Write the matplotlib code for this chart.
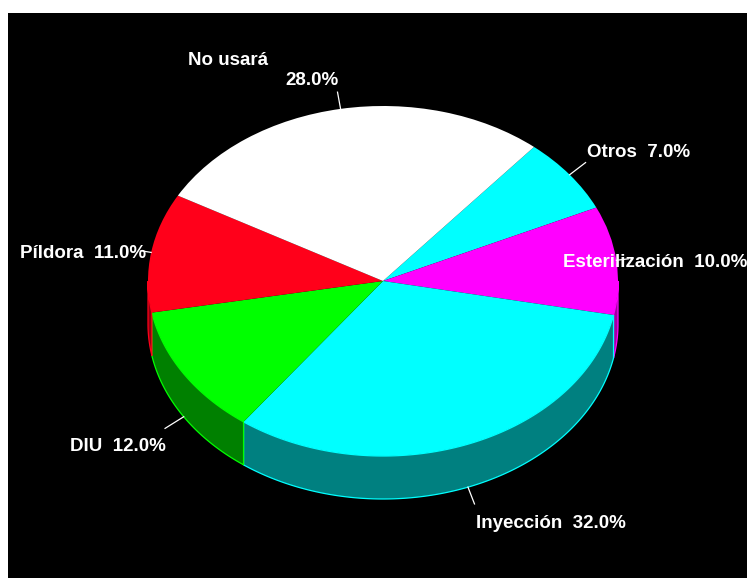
import numpy as np
import matplotlib
matplotlib.use("Agg")
import matplotlib.pyplot as plt
from matplotlib.patches import Wedge, Polygon, Rectangle
from matplotlib.transforms import Affine2D

# ---- data ----
categories = ["Otros", "Esterilización", "Inyección", "DIU", "Píldora", "No usará"]
values = [7.0, 10.0, 32.0, 12.0, 11.0, 28.0]
top_colors = ["#00ffff", "#ff00ff", "#00ffff", "#00ff00", "#ff001a", "#ffffff"]
side_colors = ["#008080", "#a000a0", "#008080", "#008000", "#90000f", "#808080"]
label_texts = ["Otros  7.0%", "Esterilización  10.0%", "Inyección  32.0%",
               "DIU  12.0%", "Píldora  11.0%", "No usará"]

# ---- layout (pixel coordinates) ----
W, H = 747, 578
cx, cy = 383, 281
rx, ry = 235, 175
depth = 43
start_angle = 50.0

plt.rcParams['font.family'] = ['Liberation Sans Narrow', 'Liberation Sans', 'DejaVu Sans']

fig = plt.figure(figsize=(W / 100, H / 100), dpi=100, facecolor="white")
ax = fig.add_axes([0, 0, 1, 1])
ax.set_xlim(0, W)
ax.set_ylim(H, 0)
ax.axis("off")
ax.add_patch(Rectangle((8, 13), W - 8, H - 13, facecolor="black", edgecolor="none", zorder=0))

ell = Affine2D().scale(rx, -ry).translate(cx, cy) + ax.transData

fracs = np.array(values) / np.sum(values)
bounds = start_angle - 360 * np.concatenate([[0], np.cumsum(fracs)])

def pt(theta_deg, d=0.0):
    t = np.deg2rad(theta_deg)
    return cx + rx * np.cos(t), cy - ry * np.sin(t) + d

# sides (front half, where sin < 0)
for i in range(len(values)):
    a_hi, a_lo = bounds[i], bounds[i + 1]
    ts = np.linspace(a_lo, a_hi, 400)
    s = np.sin(np.deg2rad(ts))
    mask = s <= 1e-9
    if mask.sum() < 2:
        continue
    idx = np.where(mask)[0]
    runs = np.split(idx, np.where(np.diff(idx) != 1)[0] + 1)
    for run in runs:
        if len(run) < 2:
            continue
        tt = ts[run]
        top = [pt(t) for t in tt]
        bot = [pt(t, depth) for t in tt[::-1]]
        poly = Polygon(top + bot, closed=True, facecolor=side_colors[i],
                       edgecolor=top_colors[i], linewidth=0.9, zorder=2)
        ax.add_patch(poly)

# top wedges
for i in range(len(values)):
    w = Wedge((0, 0), 1.0, bounds[i + 1], bounds[i], facecolor=top_colors[i],
              edgecolor="none", transform=ell, zorder=3)
    ax.add_patch(w)

# leader lines
lead_len = [20, 12, 18, 22, 10, 17]
for i in range(len(values)):
    mid = (bounds[i] + bounds[i + 1]) / 2
    t = np.deg2rad(mid)
    d = depth if np.sin(t) < 0 else 0
    x0, y0 = pt(mid, d)
    x1, y1 = x0 + lead_len[i] * np.cos(t), y0 - lead_len[i] * np.sin(t)
    ax.plot([x0, x1], [y0, y1], color="white", lw=0.9, zorder=4)

# labels
fs = 13.5
kw = dict(color="white", fontsize=fs, fontweight="bold", va="baseline", ha="left", zorder=5)
label_pos = [(587, 157), (563, 267), (476, 528), (70, 451), (20, 258), (188, 65)]
for txt, (x, y) in zip(label_texts, label_pos):
    ax.text(x, y, txt, **kw)
ax.text(285, 85, f"{values[5]:.1f}%", **kw)

fig.savefig("out.png", dpi=100, facecolor=fig.get_facecolor())
